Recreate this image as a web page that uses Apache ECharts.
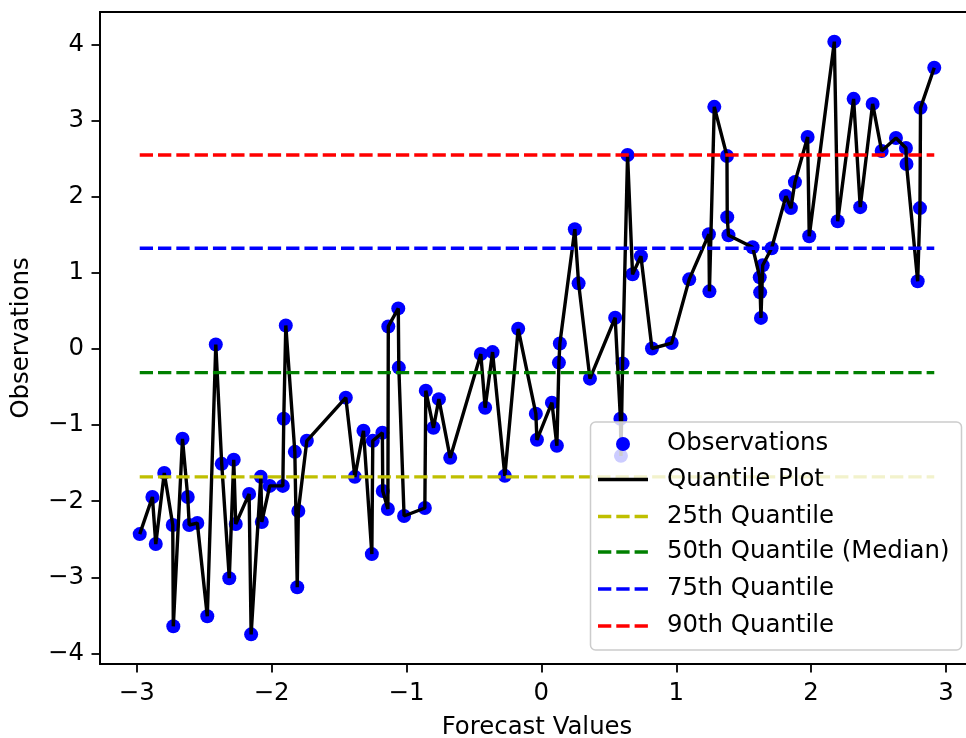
<!DOCTYPE html>
<html>
<head>
<meta charset="utf-8">
<script src="https://cdn.jsdelivr.net/npm/echarts@6/dist/echarts.min.js"></script>
<style>
  html, body { margin: 0; padding: 0; background: #ffffff; }
  #chart { width: 966px; height: 738px; }
</style>
</head>
<body>
<div id="chart"></div>
<script>
// Forecast values (x), sorted ascending
const forecastValues = [
  -2.978, -2.884, -2.859, -2.796, -2.733, -2.729, -2.661, -2.622, -2.611, -2.551,
  -2.477, -2.414, -2.370, -2.314, -2.281, -2.266, -2.167, -2.152, -2.080, -2.073,
  -2.014, -1.917, -1.910, -1.895, -1.828, -1.810, -1.802, -1.739, -1.450, -1.383,
  -1.319, -1.257, -1.250, -1.179, -1.176, -1.138, -1.135, -1.061, -1.057, -1.018,
  -0.864, -0.857, -0.800, -0.760, -0.676, -0.449, -0.417, -0.362, -0.271, -0.172,
  -0.041, -0.033, 0.078, 0.115, 0.130, 0.137, 0.248, 0.276, 0.360, 0.547,
  0.586, 0.590, 0.602, 0.639, 0.676, 0.738, 0.820, 0.966, 1.096, 1.242,
  1.246, 1.282, 1.376, 1.378, 1.387, 1.566, 1.619, 1.622, 1.628, 1.641,
  1.707, 1.813, 1.850, 1.880, 1.974, 1.986, 2.172, 2.197, 2.315, 2.364,
  2.456, 2.523, 2.629, 2.703, 2.707, 2.790, 2.807, 2.811, 2.913
];

// Observed values (y), paired with forecastValues
const observedValues = [
  -2.432, -1.944, -2.563, -1.628, -2.313, -3.644, -1.180, -1.944, -2.313, -2.287,
  -3.512, 0.059, -1.509, -3.012, -1.456, -2.300, -1.904, -3.750, -1.680, -2.273,
  -1.799, -1.799, -0.916, 0.310, -1.351, -3.130, -2.128, -1.206, -0.639, -1.680,
  -1.074, -2.695, -1.206, -1.101, -1.865, -2.102, 0.297, 0.534, -0.244, -2.194,
  -2.089, -0.547, -1.035, -0.659, -1.430, -0.066, -0.771, -0.040, -1.667, 0.266,
  -0.850, -1.193, -0.705, -1.272, -0.178, 0.072, 1.575, 0.863, -0.389, 0.411,
  -0.916, -1.404, -0.191, 2.550, 0.982, 1.219, 0.007, 0.079, 0.916, 1.509,
  0.758, 3.183, 2.537, 1.733, 1.496, 1.338, 0.942, 0.745, 0.409, 1.100,
  1.325, 2.010, 1.852, 2.194, 2.787, 1.483, 4.040, 1.680, 3.288, 1.865,
  3.222, 2.603, 2.774, 2.643, 2.432, 0.890, 1.852, 3.170, 3.697
];

// Horizontal reference levels
const quantileLabels = ['25th Quantile', '50th Quantile (Median)', '75th Quantile', '90th Quantile'];
const quantileValues = [-1.68, -0.31, 1.325, 2.55];

// Axis ticks
const xTickValues = [-3, -2, -1, 0, 1, 2, 3];
const yTickValues = [-4, -3, -2, -1, 0, 1, 2, 3, 4];

// ---- styling ----
const FONT = 'DejaVu Sans';
const FS = 24.4;
const LW = 3.4;
const DASH = [13.3, 5];
const quantileColors = ['#bfbf00', '#008000', '#0000ff', '#ff0000'];
const pointColor = '#0000ff';

const fmt = v => (v < 0 ? '\u2212' + Math.abs(v) : String(v));

// 5% autoscale margins, like matplotlib
function padded(arr) {
  const lo = Math.min(...arr), hi = Math.max(...arr);
  const m = (hi - lo) * 0.05;
  return [lo - m, hi + m];
}
const [xMin, xMax] = padded(forecastValues);
const [yMin, yMax] = padded(observedValues);
const xLo = Math.min(...forecastValues), xHi = Math.max(...forecastValues);

const pairs = forecastValues.map((x, i) => [x, observedValues[i]]);

const series = [
  {
    name: 'Observations',
    type: 'scatter',
    data: pairs,
    symbol: 'circle',
    symbolSize: 14,
    itemStyle: { color: pointColor, opacity: 1 },
    z: 2,
    silent: true
  },
  {
    name: 'Quantile Plot',
    type: 'line',
    data: pairs,
    showSymbol: false,
    symbol: 'none',
    lineStyle: { color: '#000000', width: LW },
    z: 3,
    silent: true
  }
];
quantileValues.forEach((q, i) => {
  series.push({
    name: quantileLabels[i],
    type: 'line',
    data: [[xLo, q], [xHi, q]],
    showSymbol: false,
    symbol: 'none',
    lineStyle: { color: quantileColors[i], width: LW, type: DASH },
    z: 4,
    silent: true
  });
});

// Legend box drawn as graphics
const legendTop = 422, legendLeft = 590.5, legendW = 371, legendH = 228;
const rowY = [444, 479.5, 516.5, 552, 589, 626];
const hx0 = 598, hx1 = 648, textX = 667;
const legendEls = [
  {
    type: 'rect', z: 100,
    shape: { x: legendLeft, y: legendTop, width: legendW, height: legendH, r: 5 },
    style: { fill: 'rgba(255,255,255,0.8)', stroke: '#cccccc', lineWidth: 1.5 }
  },
  {
    type: 'circle', z: 101,
    shape: { cx: (hx0 + hx1) / 2, cy: rowY[0], r: 7 },
    style: { fill: pointColor }
  },
  {
    type: 'line', z: 101,
    shape: { x1: hx0, y1: rowY[1], x2: hx1, y2: rowY[1] },
    style: { stroke: '#000000', lineWidth: LW }
  }
];
quantileLabels.forEach((lab, i) => {
  legendEls.push({
    type: 'line', z: 101,
    shape: { x1: hx0, y1: rowY[i + 2], x2: hx1, y2: rowY[i + 2] },
    style: { stroke: quantileColors[i], lineWidth: LW, lineDash: DASH }
  });
});
['Observations', 'Quantile Plot'].concat(quantileLabels).forEach((lab, i) => {
  legendEls.push({
    type: 'text', z: 101,
    x: textX, y: rowY[i],
    style: {
      text: lab, fill: '#000000', font: FS + 'px "' + FONT + '"',
      textAlign: 'left', textVerticalAlign: 'middle'
    }
  });
});

const axisCommon = {
  type: 'value',
  splitLine: { show: false },
  axisLine: { show: true, onZero: false, lineStyle: { color: '#000000', width: 1.8 } },
  axisTick: { show: true, inside: false, length: 8.5, lineStyle: { color: '#000000', width: 1.8 } },
  nameTextStyle: { fontFamily: FONT, fontSize: FS, color: '#000000', lineHeight: 24 }
};

const chart = echarts.init(document.getElementById('chart'), null, { renderer: 'canvas' });
chart.setOption({
  animation: false,
  backgroundColor: '#ffffff',
  grid: {
    left: 100, top: 12, width: 874, height: 652,
    outerBoundsMode: 'none', containLabel: false,
    show: true, borderColor: '#000000', borderWidth: 1.8, backgroundColor: 'transparent'
  },
  xAxis: Object.assign({}, axisCommon, {
    min: xMin, max: xMax,
    name: 'Forecast Values', nameLocation: 'middle', nameGap: 52,
    axisTick: Object.assign({}, axisCommon.axisTick, { customValues: xTickValues }),
    axisLabel: {
      customValues: xTickValues, formatter: fmt, margin: 18,
      fontFamily: FONT, fontSize: FS, color: '#000000', lineHeight: 24
    }
  }),
  yAxis: Object.assign({}, axisCommon, {
    min: yMin, max: yMax,
    name: 'Observations', nameLocation: 'middle', nameGap: 66,
    axisTick: Object.assign({}, axisCommon.axisTick, { customValues: yTickValues }),
    axisLabel: {
      customValues: yTickValues, formatter: fmt, margin: 16,
      fontFamily: FONT, fontSize: FS, color: '#000000', lineHeight: 24
    }
  }),
  series: series,
  graphic: { elements: legendEls }
});
</script>
</body>
</html>
